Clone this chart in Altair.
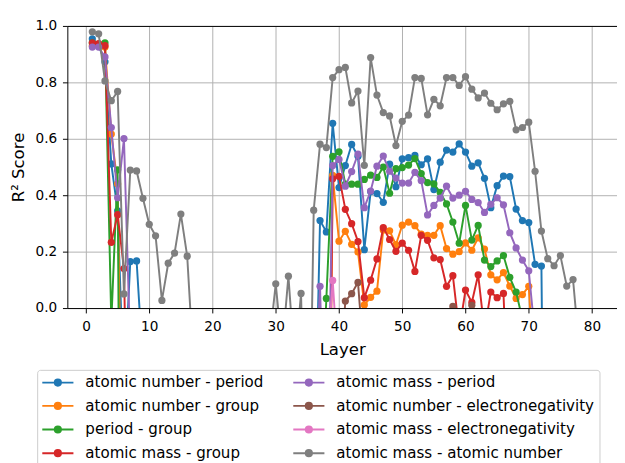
import altair as alt
import pandas as pd

layers = list(range(1, 81))

series_names = [
    "atomic number - period",
    "atomic number - group",
    "period - group",
    "atomic mass - group",
    "atomic mass - period",
    "atomic number - electronegativity",
    "atomic mass - electronegativity",
    "atomic mass - atomic number",
]
series_colors = ["#1f77b4", "#ff7f0e", "#2ca02c", "#d62728",
                 "#9467bd", "#8c564b", "#e377c2", "#7f7f7f"]
x_ticks = [0, 10, 20, 30, 40, 50, 60, 70, 80]
y_ticks = [0.0, 0.2, 0.4, 0.6, 0.8, 1.0]

# R^2 per layer (1..80); negative values fall below the visible axis
an_period = [
    0.954, 0.930, 0.873, 0.511, 0.345, -0.30, 0.165, 0.167, -0.20, -1.0,
    -1.0, -1.0, -1.0, -1.0, -1.0, -1.0, -1.0, -1.0, -1.0, -1.0,
    -1.0, -1.0, -1.0, -1.0, -1.0, -1.0, -1.0, -1.0, -1.0, -1.0,
    -1.0, -1.0, -1.0, -1.0, -1.0, -0.70, 0.310, 0.270, 0.655, 0.427,
    0.505, 0.580, 0.538, 0.207, 0.413, 0.406, 0.375, 0.510, 0.430, 0.529,
    0.533, 0.541, 0.508, 0.529, 0.420, 0.517, 0.560, 0.553, 0.582, 0.553,
    0.503, 0.515, 0.460, 0.356, 0.434, 0.468, 0.466, 0.351, 0.310, 0.303,
    0.155, 0.149, -2.0, -2.0, -2.0, -2.0, -2.0, -2.0, -2.0, -2.0,
]
an_group = [
    0.930, 0.930, 0.925, 0.617, 0.440, -1.0, -1.0, -1.0, -1.0, -1.0,
    -1.0, -1.0, -1.0, -1.0, -1.0, -1.0, -1.0, -1.0, -1.0, -1.0,
    -1.0, -1.0, -1.0, -1.0, -1.0, -1.0, -1.0, -1.0, -1.0, -1.0,
    -1.0, -1.0, -1.0, -1.0, -1.0, -1.0, -1.0, -1.5, 0.470, 0.237,
    0.272, 0.226, 0.199, 0.011, 0.038, 0.060, 0.277, 0.274, 0.225, 0.294,
    0.305, 0.292, 0.262, 0.258, 0.258, 0.292, 0.211, 0.191, 0.200, 0.231,
    0.205, 0.249, 0.209, 0.118, 0.100, 0.126, 0.078, 0.034, 0.048, 0.077,
    -0.30, -1.0, -1.0, -1.0, -1.0, -1.0, -1.0, -1.0, -1.0, -1.0,
]
period_group = [
    0.940, 0.935, 0.940, -0.050, 0.490, -3.0, -1.0, -1.0, -1.0, -1.0,
    -1.0, -1.0, -1.0, -1.0, -1.0, -1.0, -1.0, -1.0, -1.0, -1.0,
    -1.0, -1.0, -1.0, -1.0, -1.0, -1.0, -1.0, -1.0, -1.0, -1.0,
    -1.0, -1.0, -1.0, -1.0, -1.0, -1.0, -0.50, 0.034, 0.538, 0.554,
    0.439, 0.439, 0.439, 0.456, 0.471, 0.463, 0.500, 0.407, 0.494, 0.498,
    0.507, 0.530, 0.477, 0.445, 0.440, 0.410, 0.369, 0.305, 0.230, 0.364,
    0.241, 0.293, 0.170, 0.147, 0.167, 0.186, 0.109, 0.057, -0.040, -0.50,
    -1.0, -1.0, -1.0, -1.0, -1.0, -1.0, -1.0, -1.0, -1.0, -1.0,
]
am_group = [
    0.940, 0.937, 0.930, 0.233, 0.331, 0.140, -1.0, -1.0, -1.0, -1.0,
    -1.0, -1.0, -1.0, -1.0, -1.0, -1.0, -1.0, -1.0, -1.0, -1.0,
    -1.0, -1.0, -1.0, -1.0, -1.0, -1.0, -1.0, -1.0, -1.0, -1.0,
    -1.0, -1.0, -1.0, -1.0, -1.0, -1.0, -1.0, -1.5, 0.458, 0.467,
    0.350, 0.299, 0.236, 0.037, 0.099, 0.174, 0.285, 0.243, 0.201, 0.230,
    0.205, 0.130, 0.258, 0.240, 0.178, 0.172, 0.077, 0.115, -0.080, 0.064,
    0.020, 0.118, -0.080, 0.057, 0.037, 0.052, -0.50, -1.0, -1.0, -1.0,
    -1.0, -1.0, -1.0, -1.0, -1.0, -1.0, -1.0, -1.0, -1.0, -1.0,
]
am_period = [
    0.925, 0.925, 0.890, 0.640, 0.391, 0.601, -0.150, -1.0, -1.0, -1.0,
    -1.0, -1.0, -1.0, -1.0, -1.0, -1.0, -1.0, -1.0, -1.0, -1.0,
    -1.0, -1.0, -1.0, -1.0, -1.0, -1.0, -1.0, -1.0, -1.0, -1.0,
    -1.0, -1.0, -1.0, -1.0, -1.0, -0.40, 0.077, -0.760, 0.505, 0.527,
    0.432, 0.484, 0.546, 0.356, 0.415, 0.503, 0.539, 0.485, 0.461, 0.443,
    0.443, 0.481, 0.452, 0.330, 0.364, 0.390, 0.432, 0.390, 0.400, 0.414,
    0.385, 0.374, 0.339, 0.368, 0.391, 0.366, 0.267, 0.213, 0.170, 0.132,
    -0.10, -1.0, -1.0, -1.0, -1.0, -1.0, -1.0, -1.0, -1.0, -1.0,
]
an_electroneg = [
    -1.0, -1.0, -1.0, -1.0, -1.0, -1.0, -1.0, -1.0, -1.0, -1.0,
    -1.0, -1.0, -1.0, -1.0, -1.0, -1.0, -1.0, -1.0, -1.0, -1.0,
    -1.0, -1.0, -1.0, -1.0, -1.0, -1.0, -1.0, -1.0, -1.0, -1.0,
    -1.0, -1.0, -1.0, -1.0, -1.0, -1.0, -1.0, -1.0, -1.0, -0.30,
    0.025, 0.051, 0.091, -0.20, -1.0, -1.0, -1.0, -1.0, -1.0, -1.0,
    -1.0, -1.0, -1.0, -1.0, -1.0, -1.0, -0.40, 0.006, -0.40, -0.40,
    0.010, -0.40, -1.0, -1.0, -1.0, -1.0, -1.0, -1.0, -1.0, -1.0,
    -1.0, -1.0, -1.0, -1.0, -1.0, -1.0, -1.0, -1.0, -1.0, -1.0,
]
am_electroneg = [
    -1.0, -1.0, -1.0, -1.0, -1.0, -1.0, -1.0, -1.0, -1.0, -1.0,
    -1.0, -1.0, -1.0, -1.0, -1.0, -1.0, -1.0, -1.0, -1.0, -1.0,
    -1.0, -1.0, -1.0, -1.0, -1.0, -1.0, -1.0, -1.0, -1.0, -1.0,
    -1.0, -1.0, -1.0, -1.0, -1.0, -1.0, -1.0, -0.25, 0.098, -0.25,
    -1.0, -1.0, -1.0, -1.0, -1.0, -1.0, -1.0, -1.0, -1.0, -1.0,
    -1.0, -1.0, -1.0, -1.0, -1.0, -1.0, -1.0, -1.0, -1.0, -1.0,
    -1.0, -1.0, -1.0, -1.0, -1.0, -1.0, -1.0, -1.0, -1.0, -1.0,
    -1.0, -1.0, -1.0, -1.0, -1.0, -1.0, -1.0, -1.0, -1.0, -1.0,
]
am_an = [
    0.979, 0.972, 0.805, 0.735, 0.768, 0.050, 0.489, 0.486, 0.389, 0.297,
    0.256, 0.027, 0.159, 0.195, 0.333, 0.184, -0.20, -1.0, -1.0, -1.0,
    -1.0, -1.0, -1.0, -1.0, -1.0, -1.0, -1.0, -1.0, -0.12, 0.086,
    -0.15, 0.113, -0.20, 0.052, -1.0, 0.347, 0.581, 0.569, 0.817, 0.845,
    0.853, 0.727, 0.769, 0.506, 0.888, 0.755, 0.693, 0.681, 0.576, 0.662,
    0.684, 0.817, 0.814, 0.685, 0.740, 0.717, 0.817, 0.817, 0.789, 0.820,
    0.776, 0.745, 0.762, 0.726, 0.703, 0.724, 0.733, 0.632, 0.640, 0.659,
    0.485, 0.273, 0.175, 0.150, 0.186, 0.078, 0.101, -0.15, -1.0, -1.0,
]

all_values = [an_period, an_group, period_group, am_group,
              am_period, an_electroneg, am_electroneg, am_an]

rows = []
for name, vals in zip(series_names, all_values):
    for layer, v in zip(layers, vals):
        rows.append({"layer": layer, "r2": v, "series": name})
df = pd.DataFrame(rows)

x_scale = alt.Scale(domain=[-2.95, 83.95], nice=False, zero=False)
y_scale = alt.Scale(domain=[0.0, 1.0], nice=False, zero=False)
c_scale = alt.Scale(domain=series_names, range=series_colors)

sym_path = ("M-2.667,0L2.667,0"
            "M-0.533,0A0.533,0.533,0,1,0,0.533,0A0.533,0.533,0,1,0,-0.533,0Z"
            "M-0.267,0A0.267,0.267,0,1,0,0.267,0A0.267,0.267,0,1,0,-0.267,0Z")

legend = alt.Legend(
    title=None, orient="none", legendX=-31, legendY=353.5, columns=2,
    columnPadding=26, rowPadding=7.3, padding=5,
    strokeColor="#cccccc", fillColor="white", cornerRadius=3,
    symbolType=sym_path, symbolSize=144, symbolStrokeWidth=2,
    symbolOffset=8.5, labelOffset=20.5, symbolOpacity=1,
    labelFont="DejaVu Sans", labelFontSize=15.5, labelColor="black",
    labelLimit=400,
)

x_axis = alt.Axis(values=x_ticks, format="d", title="Layer", grid=True,
                  labelPadding=7, titlePadding=9)
y_axis = alt.Axis(values=y_ticks, format=".1f", title="R² Score", grid=True,
                  labelPadding=6, titlePadding=8)

layer_charts = []
for i, name in enumerate(series_names):
    first = i == 0
    layer_charts.append(
        alt.Chart(df)
        .transform_filter(alt.datum.series == name)
        .mark_line(strokeWidth=2, clip=True,
                   point=alt.OverlayMarkDef(filled=True, size=55, opacity=1, clip=True))
        .encode(
            x=alt.X("layer:Q", scale=x_scale, axis=x_axis if first else None),
            y=alt.Y("r2:Q", scale=y_scale, axis=y_axis if first else None),
            color=alt.Color("series:N", scale=c_scale, legend=legend if first else None),
        )
    )

top_frame = alt.Chart(df).mark_point(opacity=0).encode(
    x=alt.X("layer:Q", scale=x_scale,
            axis=alt.Axis(orient="top", labels=False, ticks=False, grid=False,
                          title=None, domainColor="black", domainWidth=1)),
)

chart = (
    alt.layer(*layer_charts, top_frame)
    .resolve_axis(x="independent", y="independent")
    .properties(
        width=565, height=290,
        autosize=alt.AutoSizeParams(type="none"),
        padding={"left": 61, "top": 12, "right": 0, "bottom": 160},
    )
    .configure_view(stroke=None)
    .configure_axis(
        labelFont="DejaVu Sans", titleFont="DejaVu Sans",
        labelFontSize=14, titleFontSize=17, titleFontWeight="normal",
        labelColor="black", titleColor="black",
        tickColor="black", domainColor="black", tickSize=5, tickWidth=1,
        domainWidth=1, gridColor="#b0b0b0", gridWidth=1,
    )
)

chart.save("out.html", embed_options={"renderer": "svg", "actions": False})
